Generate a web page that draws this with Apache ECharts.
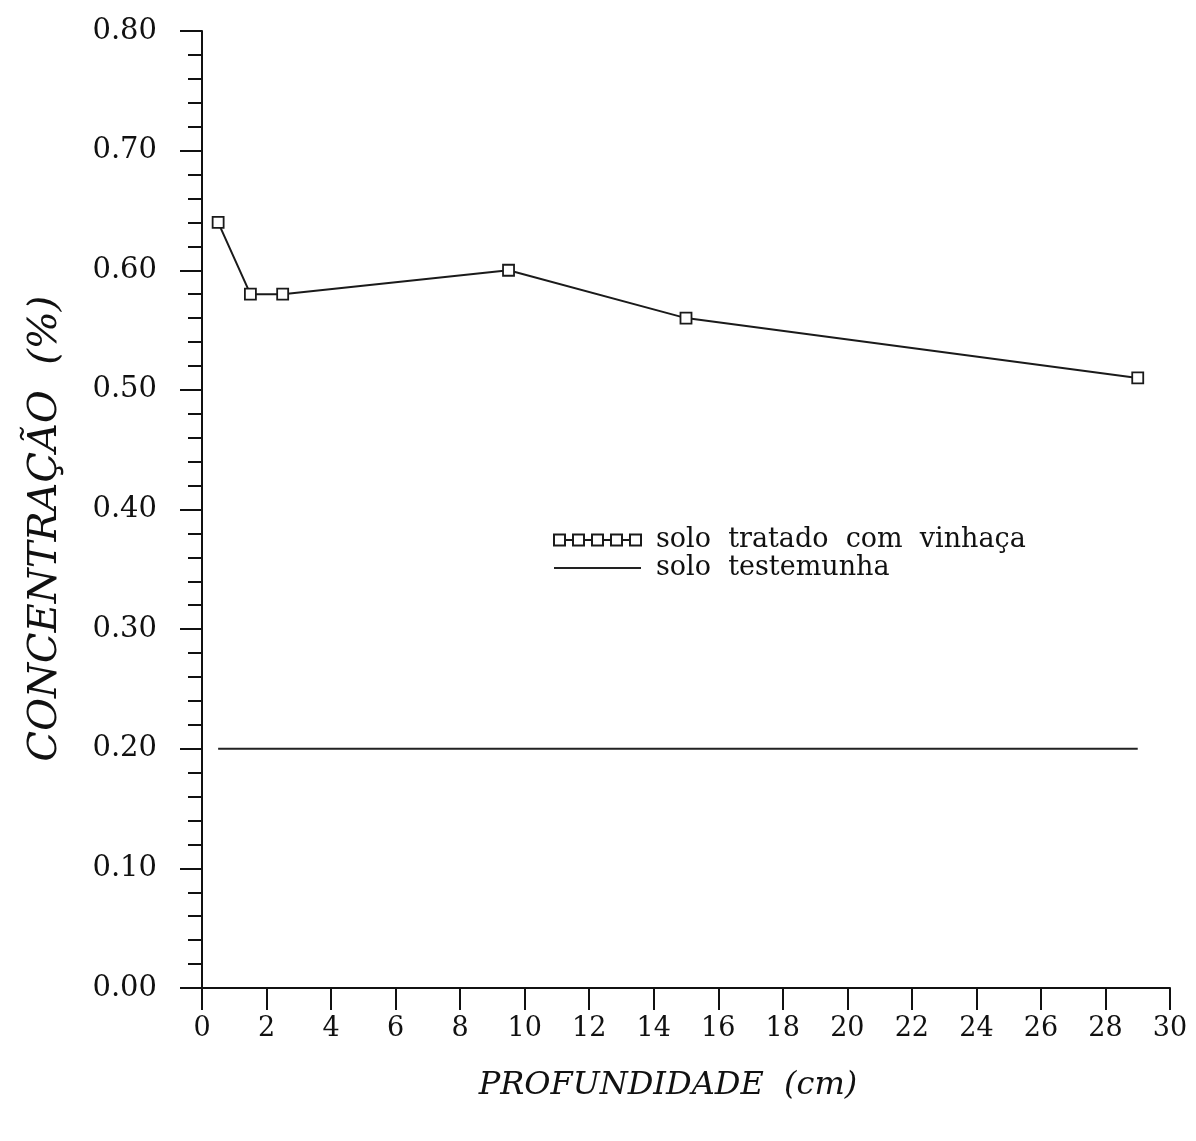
<!DOCTYPE html>
<html>
<head>
<meta charset="utf-8">
<script src="https://cdn.jsdelivr.net/npm/echarts@6/dist/echarts.min.js"></script>
<style>
html,body{margin:0;padding:0;background:#fff;}
#chart{width:1196px;height:1141px;}
</style>
</head>
<body>
<div id="chart"></div>
<script>
// Data
var depthCm = [0.5, 1.5, 2.5, 9.5, 15, 29];
var tratado = [0.64, 0.58, 0.58, 0.60, 0.56, 0.51];
var testemunha = [0.20, 0.20, 0.20, 0.20, 0.20, 0.20];
var seriesNames = ['solo  tratado  com  vinhaça', 'solo  testemunha'];
var xTitle = 'PROFUNDIDADE  (cm)';
var yTitle = 'CONCENTRAÇÃO  (%)';

function pairs(xs, ys) { return xs.map(function (x, i) { return [x, ys[i]]; }); }

var ink = '#111111';
var serif = '"DejaVu Serif", "Liberation Serif", serif';

var chart = echarts.init(document.getElementById('chart'));
chart.setOption({
  backgroundColor: '#ffffff',
  animation: false,
  grid: { left: 202, right: 26, top: 31, bottom: 153, containLabel: false },
  legend: {
    orient: 'vertical',
    left: 548,
    top: 521,
    itemWidth: 87,
    itemHeight: 11,
    itemGap: 0,
    selectedMode: false,
    textStyle: { fontFamily: serif, fontSize: 27, color: ink, padding: [0, 0, 0, 10], lineHeight: 28 },
    data: [
      { name: seriesNames[0], icon: 'path://M0,0h11v11h-11z M19,0h11v11h-11z M38,0h11v11h-11z M57,0h11v11h-11z M76,0h11v11h-11z M11,5.5H19 M30,5.5H38 M49,5.5H57 M68,5.5H76' },
      { name: seriesNames[1], icon: 'path://M0,0H82V2H0Z' }
    ]
  },
  xAxis: {
    type: 'value',
    min: 0, max: 30, interval: 2,
    name: xTitle,
    nameLocation: 'middle',
    nameGap: 82,
    nameTextStyle: { fontFamily: serif, fontStyle: 'italic', fontSize: 32, color: ink, padding: [0, 36, 0, 0] },
    axisLine: { show: true, onZero: false, lineStyle: { color: ink, width: 2 } },
    axisTick: { show: true, inside: false, length: 22, lineStyle: { color: ink, width: 2 } },
    axisLabel: { margin: 27, fontFamily: serif, fontSize: 27, color: ink },
    splitLine: { show: false }
  },
  yAxis: {
    type: 'value',
    min: 0, max: 0.8, interval: 0.1,
    name: yTitle,
    nameLocation: 'middle',
    nameGap: 136,
    nameRotate: 90,
    nameTextStyle: { fontFamily: serif, fontStyle: 'italic', fontSize: 40, color: ink, padding: [0, 38, 0, 0] },
    axisLine: { show: true, lineStyle: { color: ink, width: 2 } },
    axisTick: { show: true, inside: false, length: 22, lineStyle: { color: ink, width: 2 } },
    minorTick: { show: true, splitNumber: 5, length: 14, lineStyle: { color: ink, width: 2 } },
    axisLabel: { margin: 45, fontFamily: serif, fontSize: 29, color: ink, formatter: function (v) { return v.toFixed(2); } },
    splitLine: { show: false },
    minorSplitLine: { show: false }
  },
  series: [
    {
      name: seriesNames[0],
      type: 'line',
      data: pairs(depthCm, tratado),
      symbol: 'rect',
      symbolSize: 11,
      showAllSymbol: true,
      lineStyle: { color: '#1a1a1a', width: 2 },
      itemStyle: { color: '#ffffff', borderColor: '#1a1a1a', borderWidth: 1.8 },
      z: 3
    },
    {
      name: seriesNames[1],
      type: 'line',
      data: pairs(depthCm, testemunha),
      symbol: 'none',
      lineStyle: { color: '#222', width: 2.2 },
      itemStyle: { color: '#222' },
      z: 2
    }
  ]
});
</script>
</body>
</html>
